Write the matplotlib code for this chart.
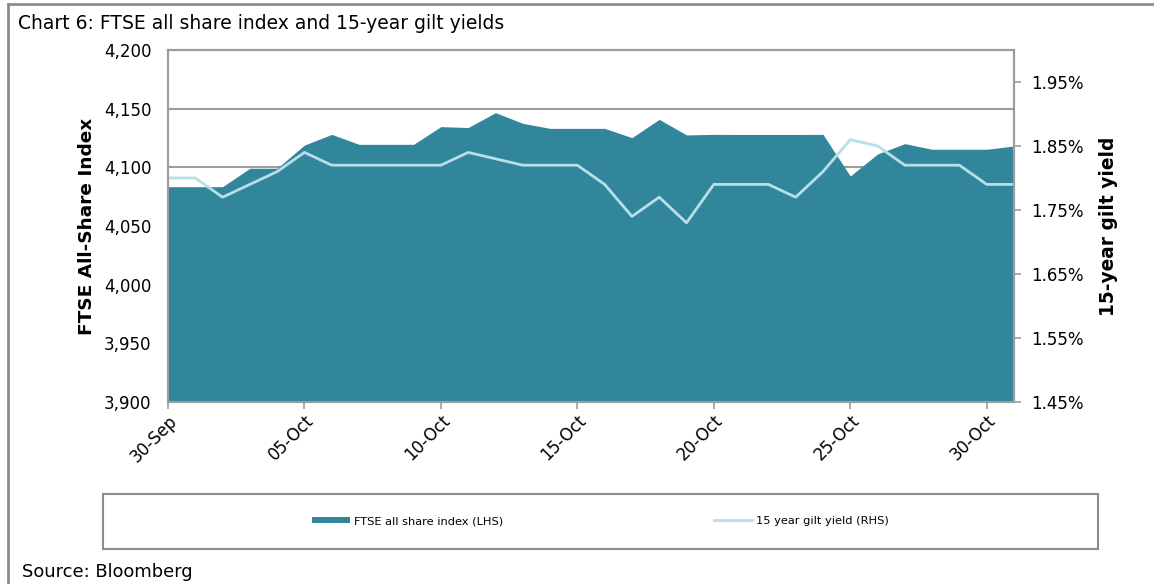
import pandas as pd
import matplotlib
matplotlib.use("Agg")
import matplotlib.pyplot as plt
import matplotlib.dates as mdates
from matplotlib.ticker import FuncFormatter, FixedLocator
from matplotlib.patches import Rectangle, Patch
from matplotlib.lines import Line2D

# Daily values, 30-Sep to 31-Oct (weekends carried flat)
dates = pd.date_range("2017-09-30", "2017-10-31", freq="D")
ftse = [4083.5, 4083.5, 4083.5, 4099.2, 4099.2, 4119.0, 4128.1, 4119.6,
        4119.6, 4119.6, 4134.7, 4133.9, 4146.6, 4137.5, 4133.2, 4133.2,
        4133.2, 4125.3, 4140.9, 4127.6, 4128.1, 4128.0, 4128.0, 4128.0,
        4128.1, 4092.6, 4111.4, 4120.2, 4115.4, 4115.4, 4115.4, 4118.2]
gilt = [1.80, 1.80, 1.77, 1.79, 1.81, 1.84, 1.82, 1.82,
        1.82, 1.82, 1.82, 1.84, 1.83, 1.82, 1.82, 1.82,
        1.79, 1.74, 1.77, 1.73, 1.79, 1.79, 1.79, 1.77,
        1.81, 1.86, 1.85, 1.82, 1.82, 1.82, 1.79, 1.79]
left_ticks = [3900, 3950, 4000, 4050, 4100, 4150, 4200]
right_ticks = [1.45, 1.55, 1.65, 1.75, 1.85, 1.95]

AREA = "#32869c"
LINE = "#b7dfe8"
GREY = "#9c9c9c"

plt.rcParams["font.family"] = "DejaVu Sans"

fig = plt.figure(figsize=(11.54, 5.84), dpi=100)
ax = fig.add_axes([168 / 1154, 1 - 402 / 584, 846 / 1154, 352 / 584])

ax.fill_between(dates, 3900, ftse, color=AREA, linewidth=0)
ax.set_xlim(dates[0], dates[-1])
ax.set_ylim(3900, 4200)
ax.yaxis.set_major_locator(FixedLocator(left_ticks))
ax.yaxis.set_major_formatter(FuncFormatter(lambda v, p: f"{v:,.0f}"))
ax.set_axisbelow(True)
ax.grid(axis="y", color=GREY, linewidth=1.5)
ax.set_xticks(dates[::5])
ax.xaxis.set_major_formatter(mdates.DateFormatter("%d-%b"))
for lab in ax.get_xticklabels():
    lab.set_rotation(45)
    lab.set_ha("right")
    lab.set_rotation_mode("anchor")
ax.tick_params(axis="x", labelsize=12, length=5, color=GREY, width=1.2, pad=2)
ax.tick_params(axis="y", labelsize=12, length=0, pad=12)
for s in ax.spines.values():
    s.set_color(GREY)
    s.set_linewidth(1.5)
ax.set_ylabel("FTSE All-Share Index", fontsize=13.3, fontweight="bold")
ax.yaxis.set_label_coords(-0.085, 0.5)

ax2 = ax.twinx()
ax2.plot(dates, gilt, color=LINE, linewidth=2)
ax2.set_ylim(1.45, 2.0)
ax2.yaxis.set_major_locator(FixedLocator(right_ticks))
ax2.yaxis.set_major_formatter(FuncFormatter(lambda v, p: f"{v:.2f}%"))
ax2.tick_params(axis="y", labelsize=12, length=5, color=GREY, width=1.2, pad=7)
for s in ax2.spines.values():
    s.set_color(GREY)
    s.set_linewidth(1.5)
ax2.set_ylabel("15-year gilt yield", fontsize=13.4, fontweight="bold")
ax2.yaxis.set_label_coords(1.101, 0.5)

# outer frame lines
fig.add_artist(Line2D([8 / 1154, 1], [1 - 4 / 584, 1 - 4 / 584], color="#8c8c8c", linewidth=2))
fig.add_artist(Line2D([8 / 1154, 8 / 1154], [0, 1 - 4 / 584], color="#8c8c8c", linewidth=2))

fig.text(18 / 1154, 1 - 14 / 584, "Chart 6: FTSE all share index and 15-year gilt yields",
         fontsize=13.5, va="top", ha="left")
fig.text(22 / 1154, 1 - 581 / 584, "Source: Bloomberg", fontsize=12.9, va="bottom", ha="left")

# legend box
fig.add_artist(Rectangle((103 / 1154, 1 - 549 / 584), 995 / 1154, 55 / 584,
                         transform=fig.transFigure, fill=False, edgecolor="#8c8c8c", linewidth=1.5))
handles = [Patch(facecolor=AREA, edgecolor="none", label="FTSE all share index (LHS)"),
           Line2D([], [], color=LINE, linewidth=2, label="15 year gilt yield (RHS)")]
fig.legend(handles=handles, loc="center", bbox_to_anchor=(600 / 1154, 1 - 521 / 584),
           ncol=2, frameon=False, fontsize=8.2, handlelength=3.4, handleheight=0.55,
           handletextpad=0.3, columnspacing=18.5)

fig.savefig("out.png", dpi=100)
